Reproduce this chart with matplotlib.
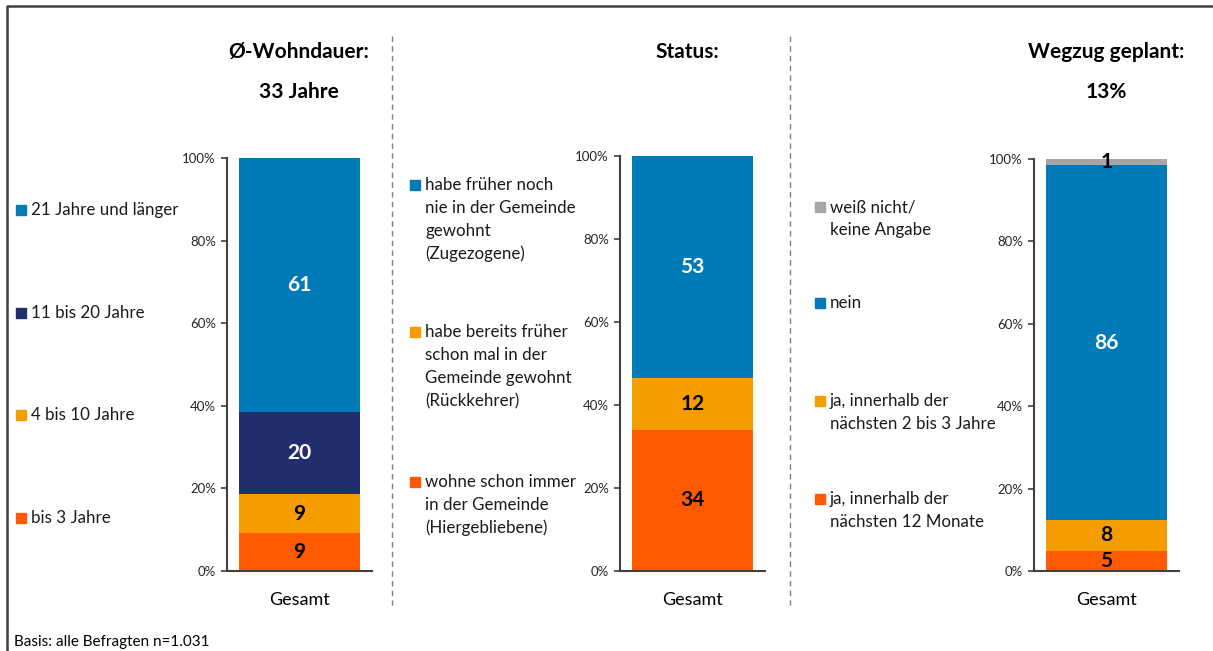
import matplotlib.pyplot as plt
from matplotlib.patches import Rectangle
from matplotlib.lines import Line2D

plt.rcParams['font.family'] = ['Lato', 'DejaVu Sans']

# ======================
# DATA
# ======================
BLUE   = "#007BB8"
NAVY   = "#212E6B"
YELLOW = "#F59C00"
ORANGE = "#FF5A00"
GREY   = "#A6A6A6"

wohn_labels = ["bis 3 Jahre", "4 bis 10 Jahre", "11 bis 20 Jahre", "21 Jahre und länger"]
wohn_values = [9.2, 9.4, 19.9, 61.5]
wohn_text   = ["9", "9", "20", "61"]

status_labels = ["wohne schon immer\nin der Gemeinde\n(Hiergebliebene)",
                 "habe bereits früher\nschon mal in der\nGemeinde gewohnt\n(Rückkehrer)",
                 "habe früher noch\nnie in der Gemeinde\ngewohnt\n(Zugezogene)"]
status_values = [34.0, 12.5, 53.5]
status_text   = ["34", "12", "53"]

wegzug_labels = ["ja, innerhalb der\nnächsten 12 Monate",
                 "ja, innerhalb der\nnächsten 2 bis 3 Jahre",
                 "nein",
                 "weiß nicht/\nkeine Angabe"]
wegzug_values = [4.9, 7.5, 86.1, 1.5]
wegzug_text   = ["5", "8", "86", "1"]

titles = [("Ø-Wohndauer:", "33 Jahre"), ("Status:", ""), ("Wegzug geplant:", "13%")]

W, H = 1213, 651

panels = [
    dict(values=wohn_values, text=wohn_text, labels=wohn_labels,
         colors=[ORANGE, YELLOW, NAVY, BLUE], txtcol=["black", "black", "white", "white"],
         ax_left=227, ax_top=158, title_x=299,
         leg_x=16, leg_y=[518, 415, 313, 210]),
    dict(values=status_values, text=status_text, labels=status_labels,
         colors=[ORANGE, YELLOW, BLUE], txtcol=["black", "black", "white"],
         ax_left=620, ax_top=156, title_x=687,
         leg_x=410, leg_y=[482, 332, 185]),
    dict(values=wegzug_values, text=wegzug_text, labels=wegzug_labels,
         colors=[ORANGE, YELLOW, BLUE, GREY], txtcol=["black", "black", "white", "black"],
         ax_left=1034, ax_top=159, title_x=1106,
         leg_x=815, leg_y=[499, 401, 303, 207]),
]

fig = plt.figure(figsize=(W / 100, H / 100), dpi=100)

def fx(px):
    return px / W

def fy(py):
    return 1 - py / H

AX_W, AX_BOTTOM = 145, 571

for i, p in enumerate(panels):
    ax = fig.add_axes([fx(p["ax_left"]), fy(AX_BOTTOM), AX_W / W, (AX_BOTTOM - p["ax_top"]) / H])
    bottom = 0.0
    for val, col, txt, tc in zip(p["values"], p["colors"], p["text"], p["txtcol"]):
        ax.bar(0, val, bottom=bottom, width=0.84, color=col, zorder=2)
        ax.text(0, bottom + val / 2, txt, ha="center", va="center",
                fontsize=15, fontweight="bold", color=tc, zorder=3)
        bottom += val
    ax.set_xlim(-0.5, 0.5)
    ax.set_ylim(0, 100)
    ax.set_yticks([0, 20, 40, 60, 80, 100])
    ax.set_yticklabels([f"{t}%" for t in [0, 20, 40, 60, 80, 100]], fontsize=9.5, color="#262626")
    ax.set_xticks([0])
    ax.set_xticklabels(["Gesamt"], fontsize=13)
    ax.tick_params(axis="x", length=0, pad=15)
    ax.tick_params(axis="y", length=4, width=1.2, color="#404040", pad=4)
    for s in ["top", "right"]:
        ax.spines[s].set_visible(False)
    for s in ["left", "bottom"]:
        ax.spines[s].set_color("#404040")
        ax.spines[s].set_linewidth(1.5)
    ax.patch.set_alpha(0)

    # titles
    t1, t2 = titles[i]
    fig.text(fx(p["title_x"]), fy(52), t1, ha="center", va="center", fontsize=15, fontweight="bold")
    if t2:
        fig.text(fx(p["title_x"]), fy(92), t2, ha="center", va="center", fontsize=15, fontweight="bold")

    # legend
    for lab, col, y0 in zip(p["labels"], p["colors"], p["leg_y"]):
        fig.patches.append(Rectangle((fx(p["leg_x"]), fy(y0 + 5)), 10 / W, 10 / H,
                                     transform=fig.transFigure, color=col))
        for k, line in enumerate(lab.split("\n")):
            fig.text(fx(p["leg_x"] + 15), fy(y0 + 23 * k), line, ha="left", va="center",
                     fontsize=12.2, color="#1a1a1a")

# dashed separators
for x in [392, 790]:
    fig.lines.append(Line2D([fx(x), fx(x)], [fy(36), fy(605)], transform=fig.transFigure,
                            color="#808080", linestyle=(0, (4, 3)), linewidth=1))

# outer frame (left and top edges visible)
fig.lines.append(Line2D([fx(7), fx(7), fx(W + 5)], [fy(H + 5), fy(6), fy(6)],
                        transform=fig.transFigure, color="#404040", linewidth=1.8))

fig.text(fx(14), fy(642), "Basis: alle Befragten n=1.031", ha="left", va="center", fontsize=11)

plt.savefig("out.png", dpi=100)
